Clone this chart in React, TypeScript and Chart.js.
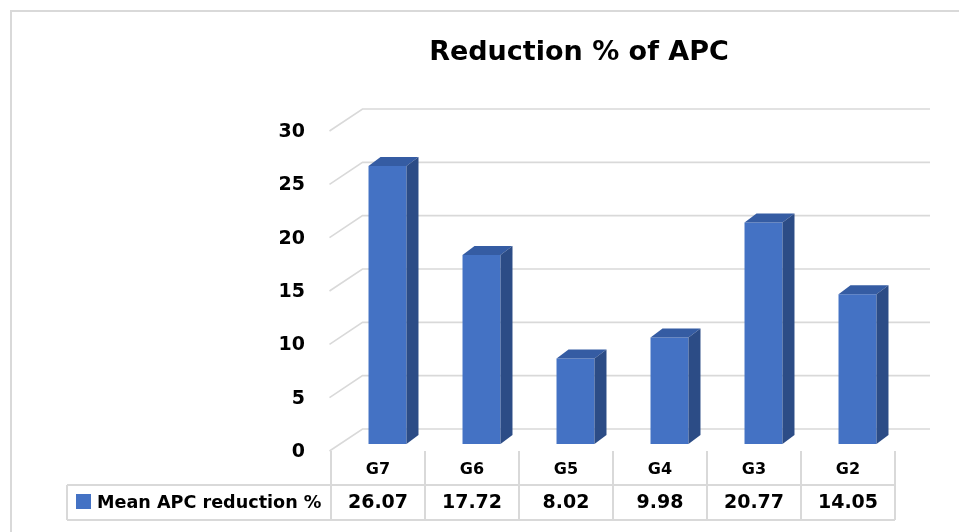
import React, { useEffect, useRef } from "react";
import { Chart, registerables } from "chart.js";

Chart.register(...registerables);

const title = "Reduction % of APC";
const categories = ["G7", "G6", "G5", "G4", "G3", "G2"];
const seriesName = "Mean APC reduction %";
const values = [26.07, 17.72, 8.02, 9.98, 20.77, 14.05];
const valueLabels = ["26.07", "17.72", "8.02", "9.98", "20.77", "14.05"];
const yTicks = [0, 5, 10, 15, 20, 25, 30];

const FRONT = "#4472C4";
const SIDE = "#2C4C86";
const TOP = "#355CA3";
const GRID = "#d9d9d9";
const FONT = "'DejaVu Sans', sans-serif";

const deco = {
  id: "deco",
  beforeDatasetsDraw(chart: any) {
    const { ctx, chartArea, scales } = chart;
    const y = scales.y;
    ctx.save();
    // outer border
    ctx.strokeStyle = GRID;
    ctx.lineWidth = 2;
    ctx.beginPath();
    ctx.moveTo(11, 540);
    ctx.lineTo(11, 11);
    ctx.lineTo(970, 11);
    ctx.stroke();
    // title
    ctx.fillStyle = "#000";
    ctx.font = `bold 27px ${FONT}`;
    ctx.textAlign = "center";
    ctx.textBaseline = "middle";
    ctx.fillText(title, 579, 53);
    // gridlines (3D walls)
    ctx.lineWidth = 1.6;
    ctx.strokeStyle = GRID;
    const fx = chartArea.left - 11;
    const bx = chartArea.left + 22;
    const rx = chartArea.right + 25.5;
    for (const v of yTicks) {
      const p = y.getPixelForValue(v);
      ctx.beginPath();
      ctx.moveTo(fx, p + 7);
      ctx.lineTo(bx, p - 15);
      ctx.lineTo(rx, p - 15);
      ctx.stroke();
    }
    // tick labels
    ctx.fillStyle = "#000";
    ctx.font = `bold 19px ${FONT}`;
    ctx.textAlign = "right";
    for (const v of yTicks) {
      const p = y.getPixelForValue(v);
      ctx.fillText(String(v), 305, p + 8);
    }
    ctx.restore();
  },
  afterDatasetsDraw(chart: any) {
    const { ctx, chartArea, scales } = chart;
    const y = scales.y;
    const x = scales.x;
    const meta = chart.getDatasetMeta(0);
    const dx = 12;
    const dy = 9;
    ctx.save();
    for (const bar of meta.data) {
      const p = bar.getProps(["x", "y", "base", "width"], true);
      const l = p.x - p.width / 2;
      const r = p.x + p.width / 2;
      ctx.fillStyle = TOP;
      ctx.beginPath();
      ctx.moveTo(l, p.y);
      ctx.lineTo(l + dx, p.y - dy);
      ctx.lineTo(r + dx, p.y - dy);
      ctx.lineTo(r, p.y);
      ctx.closePath();
      ctx.fill();
      ctx.fillStyle = SIDE;
      ctx.beginPath();
      ctx.moveTo(r, p.y);
      ctx.lineTo(r + dx, p.y - dy);
      ctx.lineTo(r + dx, p.base - dy);
      ctx.lineTo(r, p.base);
      ctx.closePath();
      ctx.fill();
    }
    // data table
    const colW = (chartArea.right - chartArea.left) / categories.length;
    const t0 = chartArea.left - 9.5;
    const floorY = y.getPixelForValue(0) + 7;
    const row1 = 485;
    const row2 = 520;
    const tableL = 67;
    ctx.strokeStyle = GRID;
    ctx.lineWidth = 2;
    ctx.beginPath();
    for (let i = 0; i <= categories.length; i++) {
      const cx = t0 + i * colW;
      ctx.moveTo(cx, floorY);
      ctx.lineTo(cx, row2);
    }
    ctx.moveTo(tableL, row1);
    ctx.lineTo(t0 + categories.length * colW, row1);
    ctx.moveTo(tableL, row2);
    ctx.lineTo(t0 + categories.length * colW, row2);
    ctx.moveTo(tableL, row1);
    ctx.lineTo(tableL, row2);
    ctx.stroke();
    ctx.fillStyle = "#000";
    ctx.textAlign = "center";
    ctx.textBaseline = "middle";
    categories.forEach((c, i) => {
      const cx = x.getPixelForValue(i) - 9.5;
      ctx.font = `bold 16px ${FONT}`;
      ctx.fillText(c, cx, 470);
      ctx.font = `bold 19px ${FONT}`;
      ctx.fillText(valueLabels[i], cx, 503);
    });
    ctx.fillStyle = FRONT;
    ctx.fillRect(76, 494, 15, 15);
    ctx.fillStyle = "#000";
    ctx.textAlign = "left";
    ctx.font = `bold 17.6px ${FONT}`;
    ctx.fillText(seriesName, 97, 503);
    ctx.restore();
  },
};

export default function App() {
  const ref = useRef<HTMLCanvasElement | null>(null);
  useEffect(() => {
    if (!ref.current) return;
    const chart = new Chart(ref.current, {
      type: "bar",
      data: {
        labels: categories,
        datasets: [
          {
            label: seriesName,
            data: values,
            backgroundColor: FRONT,
            borderWidth: 0,
            barPercentage: 0.404,
            categoryPercentage: 1,
          },
        ],
      },
      options: {
        animation: false,
        responsive: true,
        maintainAspectRatio: false,
        devicePixelRatio: 1,
        layout: { padding: { left: 340.5, right: 54.5, top: 124, bottom: 88 } },
        plugins: { legend: { display: false }, tooltip: { enabled: false }, title: { display: false } },
        scales: {
          x: { display: false },
          y: { display: false, min: 0, max: 30, ticks: { stepSize: 5 } },
        },
      },
      plugins: [deco],
    });
    return () => chart.destroy();
  }, []);
  return (
    <div style={{ position: "absolute", left: 0, top: 0, width: 959, height: 532, background: "#fff" }}>
      <canvas ref={ref} />
    </div>
  );
}
